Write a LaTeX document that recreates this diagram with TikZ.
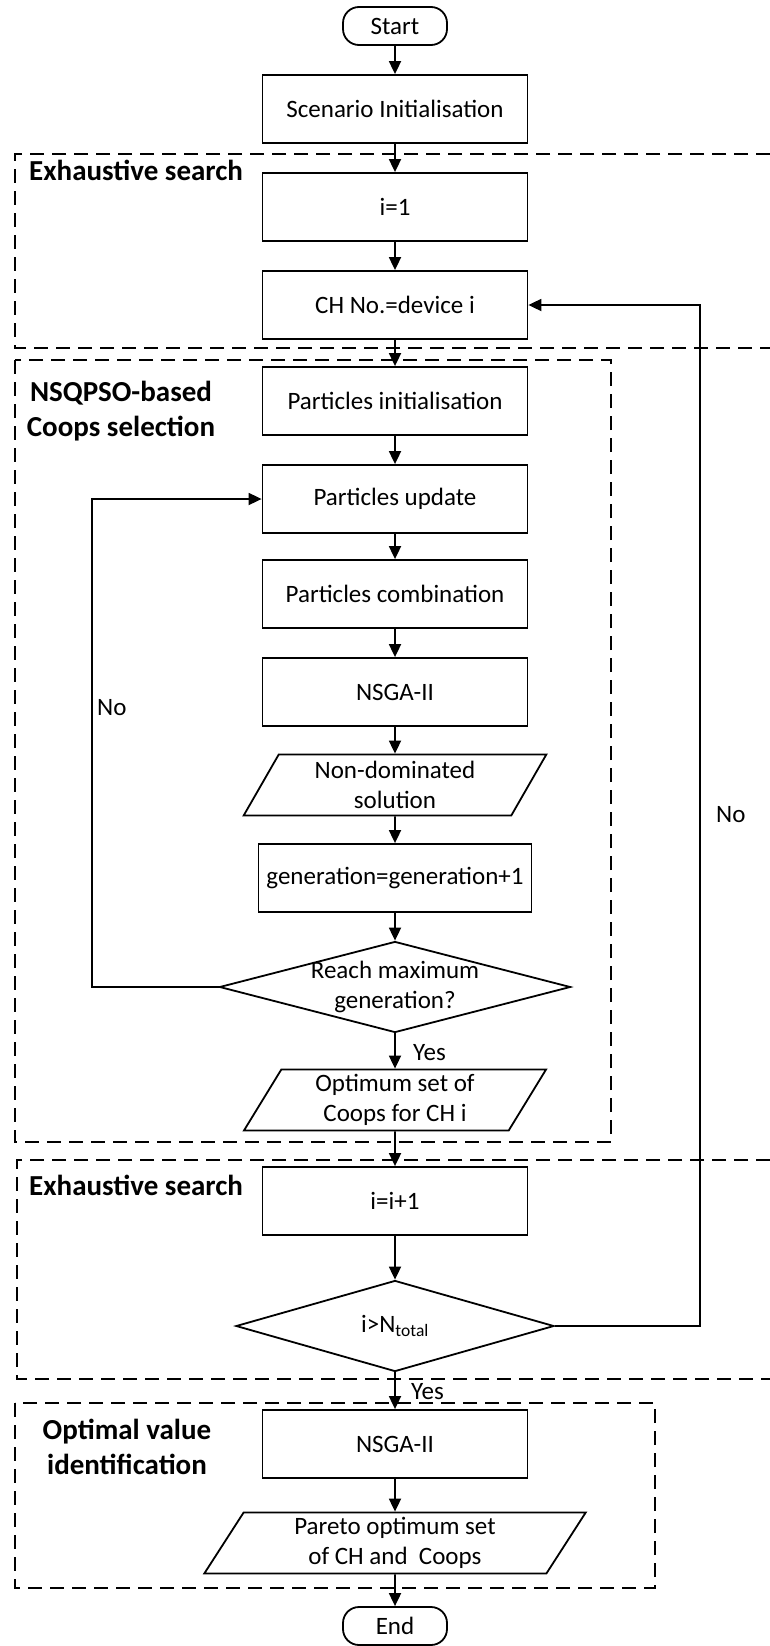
\documentclass[tikz,border=0pt]{standalone}
\usepackage{fontspec}
\setmainfont{Carlito}
\usetikzlibrary{arrows.meta,shapes.geometric}

\tikzset{
  every picture/.style={line width=1.8pt},
  txt/.style={font=\fontsize{25}{30}\selectfont},
  grouplbl/.style={font=\bfseries\fontsize{29}{35}\selectfont,align=center},
  procbox/.style={txt,draw,rectangle,minimum width=265pt,minimum height=68pt,inner sep=0pt},
  termbox/.style={txt,draw,rectangle,rounded corners=16pt,minimum width=104pt,minimum height=38pt,inner sep=0pt},
  iobox/.style={txt,draw,trapezium,trapezium left angle=63,trapezium right angle=117,
    trapezium stretches=true,minimum height=61pt,inner sep=0pt,align=center},
  decision/.style={txt,draw,diamond,minimum width=351pt,minimum height=91pt,inner sep=0pt},
  flow/.style={-{Triangle[length=13pt,width=12pt]}},
  groupline/.style={line width=1.6pt,dash pattern=on 14pt off 8pt},
}

\begin{document}
\begin{tikzpicture}[x=1pt,y=-1pt]
\path[use as bounding box,fill=white] (0,0) rectangle (770,1646);

% dashed groups
\draw[groupline] (770,154) -| (15,348) -- (770,348);
\draw[groupline] (15,360) rectangle (611,1142);
\draw[groupline] (770,1160) -| (17,1379) -- (770,1379);
\draw[groupline] (15,1403) rectangle (655,1588);

\node[grouplbl,anchor=base west] (lblsearchA) at (25,180) {Exhaustive search};
\node[grouplbl] (lblpso) at (121,411) {NSQPSO-based\\Coops selection};
\node[grouplbl,anchor=base west] (lblsearchB) at (25,1195) {Exhaustive search};
\node[grouplbl] (lblopt) at (127,1447) {Optimal value\\identification};

% main column
\node[termbox] (start) at (395,26) {Start};
\node[procbox] (scen) at (395,109) {Scenario Initialisation};
\node[procbox] (ione) at (395,207) {i=1};
\node[procbox] (chdev) at (395,305) {CH No.=device i};
\node[procbox] (pinit) at (395,401) {Particles initialisation};
\node[procbox] (pupd) at (395,499) {Particles update};
\node[procbox] (pcomb) at (395,594) {Particles combination};
\node[procbox] (nsga) at (395,692) {NSGA-II};
\node[iobox,minimum width=303pt] (nondom) at (395,785) {Non-dominated\\solution};
\node[procbox,minimum width=273pt] (gen) at (395,878) {generation=generation+1};
\node[decision] (reach) at (395,987) {};
\node[txt,align=center] (reachtxt) at (reach.center) {Reach maximum\\generation?};
\node[iobox,minimum width=303pt] (optset) at (395,1100) {Optimum set of\\Coops for CH i};
\node[procbox] (incr) at (395,1201) {i=i+1};
\node[decision,minimum width=318pt] (check) at (395,1326) {i>N\textsubscript{total}};
\node[procbox] (nsgab) at (395,1444) {NSGA-II};
\node[iobox,minimum width=382pt] (pareto) at (395,1543) {Pareto optimum set\\of CH and~ Coops};
\node[termbox] (finish) at (395,1626) {End};

% loop corners
\coordinate (loopL) at (92,700);
\coordinate (loopR) at (700,700);

\draw[flow] (start) -- (scen);
\draw[flow] (scen) -- (ione);
\draw[flow] (ione) -- (chdev);
\draw[flow] (chdev) -- (pinit);
\draw[flow] (pinit) -- (pupd);
\draw[flow] (pupd) -- (pcomb);
\draw[flow] (pcomb) -- (nsga);
\draw[flow] (nsga) -- (nondom);
\draw[flow] (nondom) -- (gen);
\draw[flow] (gen) -- (reach);
\draw[flow] (reach) -- (optset);
\draw[flow] (optset) -- (incr);
\draw[flow] (incr) -- (check);
\draw[flow] (check) -- (nsgab);
\draw[flow] (nsgab) -- (pareto);
\draw[flow] (pareto) -- (finish);

\draw[flow] (reach.west) -- (reach.west -| loopL) |- (pupd.west);
\draw[flow] (check.east) -| (chdev.east -| loopR) -- (chdev.east);

\node[txt,anchor=west] (noL) at (93,708) {No};
\node[txt,anchor=west] (noR) at (712,815) {No};
\node[txt,anchor=west] (yesA) at (409,1053) {Yes};
\node[txt,anchor=west] (yesB) at (407,1392) {Yes};
\end{tikzpicture}
\end{document}
